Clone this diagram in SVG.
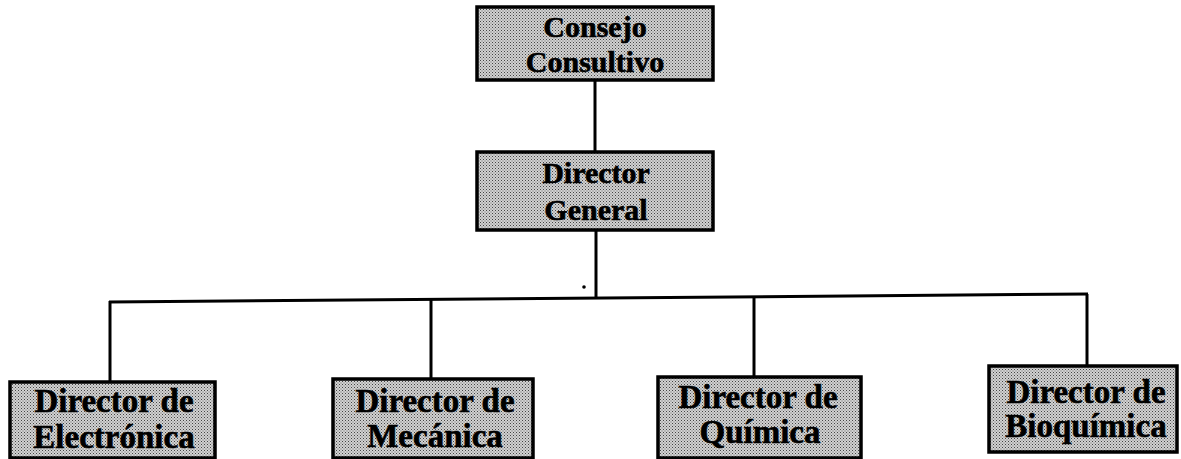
<svg xmlns="http://www.w3.org/2000/svg" width="1181" height="459" viewBox="0 0 1181 459">
<defs>
<pattern id="dots" width="3" height="3" patternUnits="userSpaceOnUse">
<rect width="3" height="3" fill="#d2d2d2"/>
<rect x="0" y="0" width="1" height="1" fill="#444"/>
<rect x="1.5" y="1.5" width="1" height="1" fill="#666"/>
</pattern>
</defs>
<style>
.box{fill:url(#dots);stroke:#000;stroke-width:3.5}
.t{font-family:"Liberation Serif","Times New Roman",serif;font-weight:bold;fill:#000;stroke:#000;stroke-width:0.6;text-anchor:middle}
.top{font-size:30px}
.bot{font-size:33px}
.ln{fill:none;stroke:#000;stroke-width:3}
</style>
<rect width="1181" height="459" fill="#fff"/>
<g id="connectors">
<line class="ln" x1="595" y1="80" x2="595" y2="152"/>
<line class="ln" x1="596" y1="230" x2="596" y2="298"/>
<line class="ln" x1="109" y1="302" x2="1088" y2="294"/>
<line class="ln" x1="110" y1="301" x2="110" y2="382"/>
<line class="ln" x1="431" y1="298.5" x2="431" y2="379"/>
<line class="ln" x1="754" y1="296.5" x2="754" y2="377"/>
<line class="ln" x1="1087" y1="294" x2="1087" y2="366"/>
<circle cx="584" cy="287" r="1.8" fill="#000"/>
</g>
<g id="consejo">
<rect class="box" x="477" y="7" width="236" height="73"/>
<text class="t top" x="595" y="37">Consejo</text>
<text class="t top" x="595" y="72">Consultivo</text>
</g>
<g id="director-general">
<rect class="box" x="477" y="152" width="236" height="78"/>
<text class="t top" x="596" y="183">Director</text>
<text class="t top" x="596" y="220">General</text>
</g>
<g id="electronica">
<rect class="box" x="10" y="382" width="205" height="76"/>
<text class="t bot" x="114" y="412">Director de</text>
<text class="t bot" x="114" y="448">Electrónica</text>
</g>
<g id="mecanica">
<rect class="box" x="333" y="379" width="200" height="79"/>
<text class="t bot" x="435" y="412">Director de</text>
<text class="t bot" x="435" y="447">Mecánica</text>
</g>
<g id="quimica">
<rect class="box" x="658" y="377" width="203" height="81"/>
<text class="t bot" x="758" y="408">Director de</text>
<text class="t bot" x="760" y="443">Química</text>
</g>
<g id="bioquimica">
<rect class="box" x="989" y="366" width="188" height="86"/>
<text class="t bot" x="1086" y="403">Director de</text>
<text class="t bot" x="1086" y="437">Bioquímica</text>
</g>
</svg>
